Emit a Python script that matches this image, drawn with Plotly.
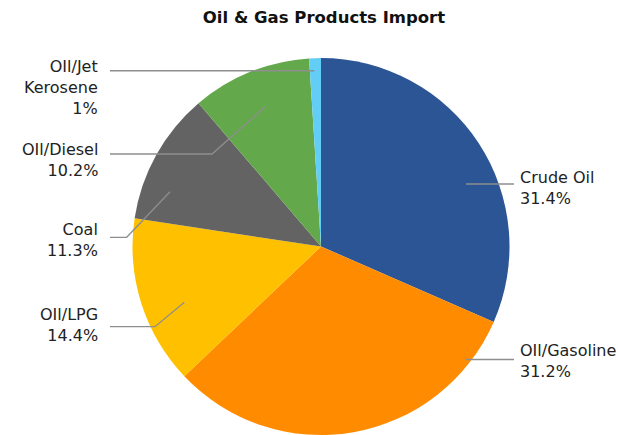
import math
import plotly.graph_objects as go

# ---- data ----
labels = ["Crude Oil", "OIl/Gasoline", "OIl/LPG", "Coal", "OIl/Diesel", "OIl/Jet Kerosene"]
label_lines = ["Crude Oil", "OIl/Gasoline", "OIl/LPG", "Coal", "OIl/Diesel", "OIl/Jet<br>Kerosene"]
shares = [31.4, 31.2, 14.4, 11.3, 10.2, 1.0]
colors = ["#2B5595", "#FF8C00", "#FFC000", "#636363", "#63A84A", "#63CEF5"]

# ---- layout constants (pixels) ----
W, H = 618, 435
CX, CY, R = 321.0, 246.5, 188.5

# per-slice callout placement: side, label centre y, leader y, knee x,
# fraction along the slice's arc, fraction of the radius for the tick end
callouts = [
    dict(side="right", ty=187.5, ly=None, knee=None, af=0.587, rf=0.838),
    dict(side="right", ty=361.0, ly=None, knee=None, af=0.127, rf=0.975),
    dict(side="left", ty=324.5, ly=326.7, knee=155.0, af=0.409, rf=0.783),
    dict(side="left", ty=240.3, ly=237.3, knee=126.7, af=0.277, rf=0.852),
    dict(side="left", ty=159.8, ly=154.0, knee=212.0, af=0.518, rf=0.800),
    dict(side="left", ty=87.4, ly=None, knee=None, af=0.40, rf=0.933),
]
LEFT_TEXT_X, RIGHT_TEXT_X = 100.0, 518.0
LEFT_LINE_X, RIGHT_LINE_X = 110.0, 514.0


def px(x):
    return x / W


def py(y):
    return 1 - y / H


fig = go.Figure(
    go.Pie(
        labels=labels,
        values=shares,
        sort=False,
        direction="clockwise",
        rotation=0,
        marker=dict(colors=colors, line=dict(width=0)),
        textinfo="none",
        hoverinfo="label+value",
        showlegend=False,
        domain=dict(x=[px(CX - R), px(CX + R)], y=[py(CY + R), py(CY - R)]),
    )
)

total = sum(shares)
start = 0.0
shapes, annotations = [], []
for lab, val, c in zip(label_lines, shares, callouts):
    span = val / total * 360.0
    ang = math.radians(start + c["af"] * span)
    start += span
    ex = CX + c["rf"] * R * math.sin(ang)
    ey = CY - c["rf"] * R * math.cos(ang)
    ly = c["ly"] if c["ly"] is not None else ey
    knee = c["knee"] if c["knee"] is not None else ex
    outer = RIGHT_LINE_X if c["side"] == "right" else LEFT_LINE_X
    path = f"M {px(ex)} {py(ey)} L {px(knee)} {py(ly)} L {px(outer)} {py(ly)}"
    shapes.append(dict(type="path", xref="paper", yref="paper", path=path,
                       line=dict(color="#8E8E8E", width=1.3)))
    if c["side"] == "right":
        ax, anchor = RIGHT_TEXT_X, "left"
    else:
        ax, anchor = LEFT_TEXT_X, "right"
    annotations.append(dict(
        x=px(ax), y=py(c["ty"]), xref="paper", yref="paper",
        xanchor=anchor, yanchor="middle", align=anchor, showarrow=False,
        text=f"{lab}<br>{val:g}%",
        font=dict(family="DejaVu Sans", size=16, color="#222222"),
    ))

fig.update_layout(
    width=W, height=H,
    margin=dict(l=0, r=0, t=0, b=0),
    paper_bgcolor="white", plot_bgcolor="white",
    title=dict(text="<b>Oil & Gas Products Import</b>", x=324 / W, xanchor="center",
               y=py(17.5), yanchor="middle", yref="container",
               font=dict(family="DejaVu Sans", size=16.5, color="#111111")),
    shapes=shapes,
    annotations=annotations,
)

fig.write_html("out.html")
